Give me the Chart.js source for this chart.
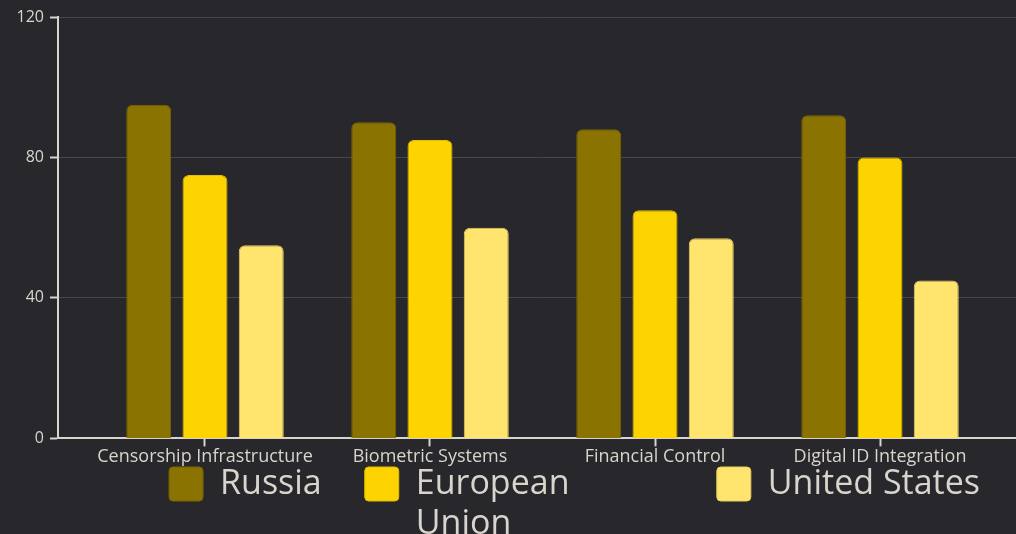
<!DOCTYPE html>
<html>
<head>
<meta charset="utf-8">
<script src="https://cdn.jsdelivr.net/npm/chart.js@4/dist/chart.umd.min.js"></script>
<style>
  html, body { margin: 0; padding: 0; background: #27272c; overflow: hidden; }
  #wrap { width: 1016px; height: 534px; }
</style>
</head>
<body>
<div id="wrap"><canvas id="surveillanceChart"></canvas></div>
<script>
const categories = [
  "Censorship Infrastructure",
  "Biometric Systems",
  "Financial Control",
  "Digital ID Integration"
];
const russia = [95, 90, 88, 92];
const europeanUnion = [75, 85, 65, 80];
const unitedStates = [55, 60, 57, 45];
const yTicks = [0, 40, 80, 120];

const textColor = "#d9d5cc";
const gridColor = "#47474c";
const fontFamily = "'Open Sans', sans-serif";

// bars sit on a numeric x axis (category index) so the groups can be spaced like the original
const points = (values) => values.map((v, i) => ({ x: i, y: v }));

// the original legend was laid out on a wider canvas and spills past the bottom edge
const legendOverflow = {
  id: "legendOverflow",
  beforeInit(chart) {
    const legend = chart.legend;
    const fit = legend.fit;
    legend.fit = function () {
      fit.call(this);
      this.height = 66;
    };
  },
  afterLayout(chart) {
    const lg = chart.legend;
    const pad = lg.options.labels.padding;
    lg.left = 0;
    lg.right = 1149;
    lg.width = 1149;
    lg.top = 467 - pad;
    lg.height = 200;
    lg.bottom = lg.top + lg.height;
  },
};

const ctx = document.getElementById("surveillanceChart");

new Chart(ctx, {
  type: "bar",
  data: {
    datasets: [
      {
        label: "Russia",
        data: points(russia),
        backgroundColor: "#8a7300",
        borderColor: "#7a6600",
      },
      {
        label: ["European", "Union"],
        data: points(europeanUnion),
        backgroundColor: "#fdd300",
        borderColor: "#e6be00",
      },
      {
        label: "United States",
        data: points(unitedStates),
        backgroundColor: "#ffe46e",
        borderColor: "#e8cf62",
      },
    ],
  },
  options: {
    responsive: true,
    maintainAspectRatio: false,
    animation: false,
    categoryPercentage: 0.75,
    barPercentage: 0.8,
    datasets: {
      bar: { borderWidth: 1, borderRadius: 6, borderSkipped: "bottom" },
    },
    layout: { padding: { top: 17, right: 0, left: 0, bottom: 0 } },
    plugins: {
      legend: {
        position: "bottom",
        labels: {
          color: textColor,
          font: { family: fontFamily, size: 34 },
          boxWidth: 34,
          boxHeight: 34,
          padding: 43,
          useBorderRadius: true,
          borderRadius: 4,
        },
      },
      tooltip: { enabled: false },
    },
    scales: {
      x: {
        type: "linear",
        offset: false,
        min: -0.6533,
        max: 3.6044,
        afterBuildTicks: (scale) => {
          scale.ticks = categories.map((c, i) => ({ value: i }));
        },
        ticks: {
          color: textColor,
          font: { family: fontFamily, size: 18 },
          maxRotation: 0,
          autoSkip: false,
          padding: 0,
          callback: (v) => categories[v],
        },
        grid: {
          offset: false,
          drawOnChartArea: false,
          tickLength: 8,
          tickWidth: 2,
          tickColor: textColor,
        },
        border: { color: textColor, width: 2 },
      },
      y: {
        min: 0,
        max: 120,
        afterBuildTicks: (scale) => {
          scale.ticks = yTicks.map((v) => ({ value: v }));
        },
        afterFit: (scale) => {
          scale.width = 58;
        },
        ticks: {
          color: textColor,
          font: { family: fontFamily, size: 16 },
          padding: 6,
        },
        grid: {
          color: gridColor,
          lineWidth: 1,
          tickLength: 8,
          tickWidth: 2,
          tickColor: textColor,
        },
        border: { color: textColor, width: 2 },
      },
    },
  },
  plugins: [legendOverflow],
});
</script>
</body>
</html>
